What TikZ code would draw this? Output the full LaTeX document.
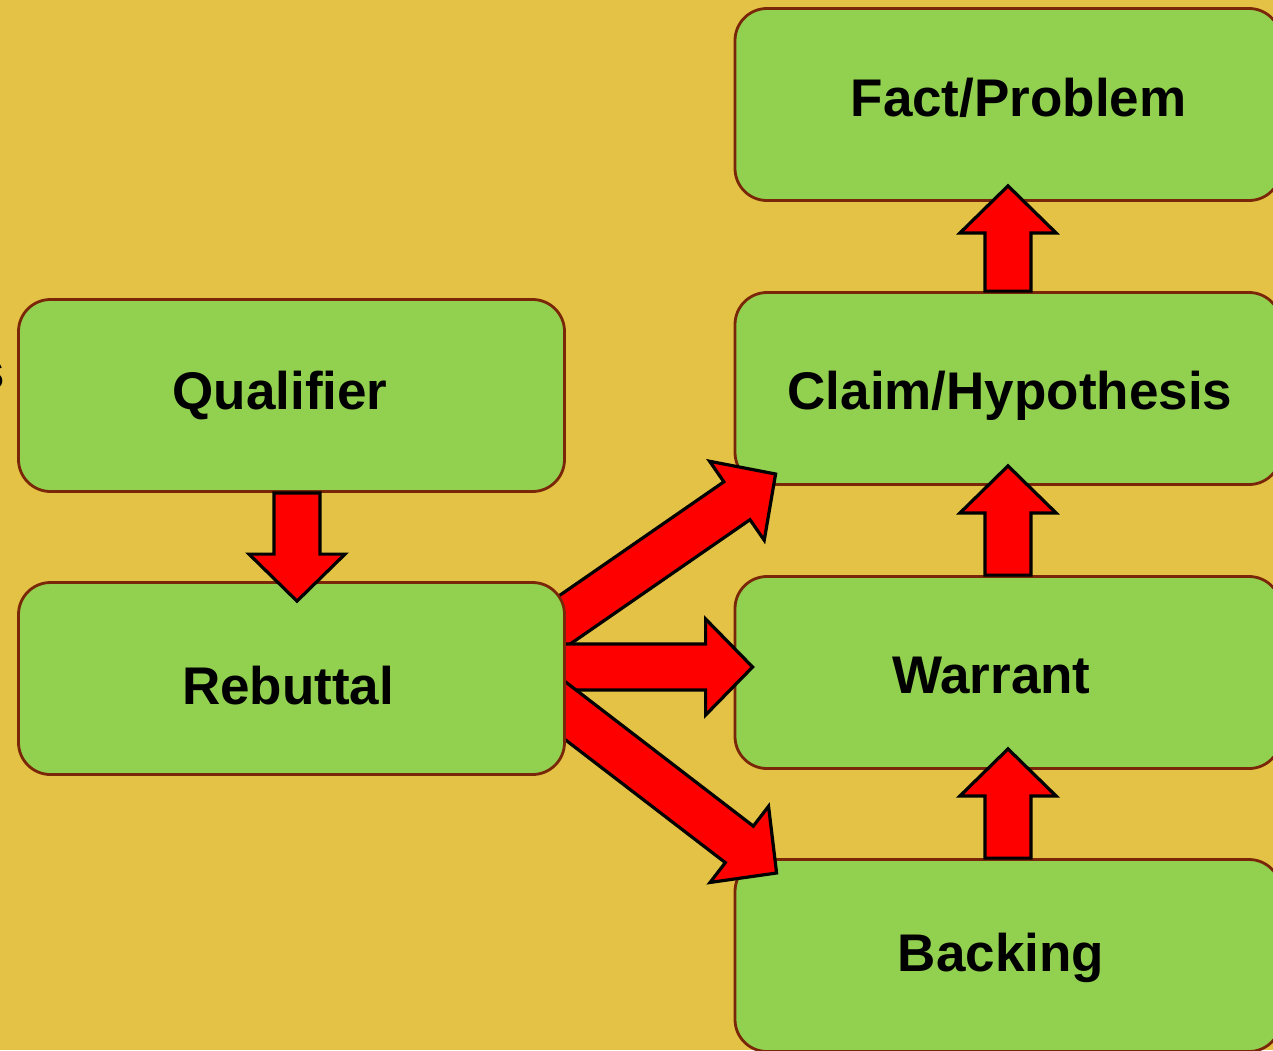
\documentclass[tikz,border=0pt]{standalone}
\usepackage{fontspec}
\setmainfont{Liberation Sans}
\usetikzlibrary{calc}
\pgfdeclarelayer{boxes}
\pgfdeclarelayer{front}
\pgfdeclarelayer{top}
\pgfsetlayers{boxes,main,front,top}
\definecolor{gold}{RGB}{227,194,69}
\definecolor{leaf}{RGB}{146,208,80}
\definecolor{rim}{RGB}{122,38,8}
\definecolor{arrowred}{RGB}{255,0,0}

% block arrow geometry (shaft half width, head half width, head length)
\newcommand\arrshaft{23}
\newcommand\arrhead{48}
\newcommand\arrtip{47}
% \blockarrow{from}{to}: a fat outlined arrow from one point to another
\newcommand\blockarrow[2]{%
  \path let \p1=($(#2)-(#1)$) in
    \pgfextra{\pgfmathsetmacro\arrang{atan2(\y1,\x1)}%
              \pgfmathsetmacro\arrlen{veclen(\x1,\y1)}%
              \xdef\arrang{\arrang}\xdef\arrlen{\arrlen}};
  \draw[blockarrow, shift={(#1)}, rotate=\arrang]
    (0,-\arrshaft) -- (\arrlen-\arrtip,-\arrshaft) -- (\arrlen-\arrtip,-\arrhead)
    -- (\arrlen,0) -- (\arrlen-\arrtip,\arrhead) -- (\arrlen-\arrtip,\arrshaft)
    -- (0,\arrshaft) -- cycle;
}

\begin{document}
\begin{tikzpicture}[x=1pt,y=-1pt,
  box/.style={draw=rim, line width=2.8pt, fill=leaf, rounded corners=32pt,
              minimum width=546pt, minimum height=192pt, inner sep=0pt},
  lbl/.style={font=\bfseries\fontsize{53}{60}\selectfont, inner sep=0pt, anchor=base},
  blockarrow/.style={draw=black, line width=3.2pt, fill=arrowred, line join=miter}]

\useasboundingbox (0,0) rectangle (1273,1050);

\begin{pgfonlayer}{boxes}
  \fill[gold] (0,0) rectangle (1273,1050);
  \node[lbl, anchor=base east] (cut) at (5,389) {s};
  \node[box] (fact)    at (1008,104.5) {};
  \node[box] (claim)   at (1008,388.5) {};
  \node[box] (warrant) at (1008,672.5) {};
  \node[box] (backing) at (1008,955.5) {};
  \node[box] (qual)    at (291.5,395.5) {};
  \node[lbl] (factlbl)    at (1018.5,116) {Fact/Problem};
  \node[lbl] (claimlbl)   at (1010,409) {Claim/Hypothesis};
  \node[lbl] (warrantlbl) at (991.5,693) {Warrant};
  \node[lbl] (backinglbl) at (1001,971) {Backing};
  \node[lbl] (quallbl)    at (280,409) {Qualifier};
\end{pgfonlayer}

\begin{pgfonlayer}{front}
  \node[box] (rebut) at (291.5,678.5) {};
  \node[lbl] (rebutlbl) at (288,704) {Rebuttal};
\end{pgfonlayer}

% arrows leaving the rebuttal box (tails hidden beneath it)
\coordinate (r1) at ($(rebut.east)+(-26,-41.5)$);
\coordinate (r2) at ($(rebut.east)+(-26,-11.5)$);
\coordinate (r3) at ($(rebut.east)+(-25,13.5)$);
\coordinate (t1) at ($(claim.west)+(42,85.5)$);
\coordinate (t2) at ($(warrant.west)+(19,-5.5)$);
\coordinate (t3) at ($(backing.west)+(43,-82.5)$);
\blockarrow{r1}{t1}
\blockarrow{r2}{t2}
\blockarrow{r3}{t3}

\begin{pgfonlayer}{top}
  \coordinate (q1) at ($(qual.south)+(5.5,0)$);
  \coordinate (q2) at ($(rebut.north)+(5.5,20)$);
  \blockarrow{q1}{q2}
  \coordinate (u1) at ($(fact.south)+(0,-16)$);
  \coordinate (u2) at ($(claim.south)+(0,-20)$);
  \coordinate (u3) at ($(warrant.south)+(0,-21)$);
  \blockarrow{claim.north}{u1}
  \blockarrow{warrant.north}{u2}
  \blockarrow{backing.north}{u3}
\end{pgfonlayer}
\end{tikzpicture}
\end{document}
